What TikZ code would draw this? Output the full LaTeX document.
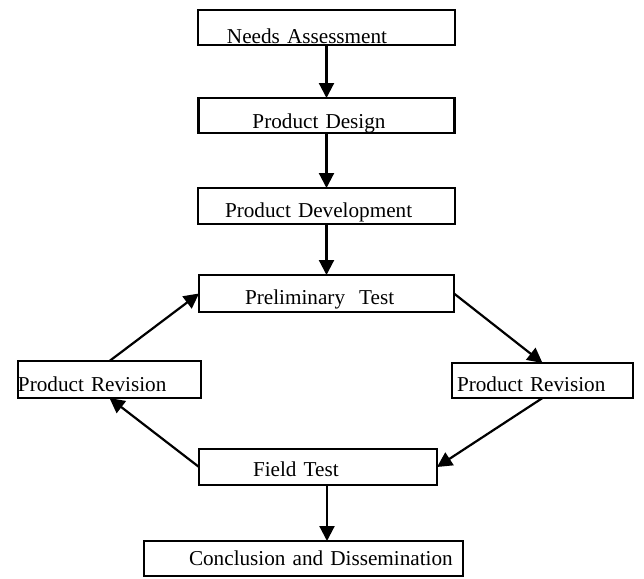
\documentclass[tikz,border=0pt]{standalone}
\usepackage{fontspec}
\setmainfont{Liberation Serif}
\usetikzlibrary{positioning,arrows.meta}
\tikzstyle{box}=[draw,line width=1.25pt,inner sep=0pt,outer sep=0pt,align=left]
\tikzstyle{arrow}=[-{Triangle[length=7.5pt,width=7.5pt]},line width=1.1pt]

\begin{document}
\begin{tikzpicture}[font=\fontsize{10.6}{12}\selectfont]
  \useasboundingbox (0,0) rectangle (322pt,-289.5pt);

  % main column
  \node[box,text width=128.5pt,text height=16.5pt,text depth=1pt]
    (na) at (163.25pt,-13.75pt) {\hspace*{14.5pt}Needs Assessment};
  \node[box,text width=128pt,text height=15pt,text depth=2.5pt]
    (pd) [below=26.5pt of na] {\hspace*{27pt}Product Design};
  \node[box,text width=128.5pt,text height=14.5pt,text depth=3.5pt]
    (pdev) [below=27.5pt of pd] {\hspace*{13.5pt}Product Development};
  \node[box,text width=127.5pt,text height=14.5pt,text depth=4pt]
    (pt) [below=25.5pt of pdev] {\hspace*{23pt}Preliminary~~Test};

  % revision loop
  \node[box,text width=91.5pt,text height=15pt,text depth=3.5pt]
    (lpr) [below=24.5pt of pt.south west,anchor=north east,xshift=1pt]
    {Product Revision};
  \node[box,text width=90.5pt,text height=14pt,text depth=3.5pt]
    (rpr) [below=25.5pt of pt.south east,anchor=north west,xshift=-1pt]
    {\hspace*{2.5pt}Product Revision};
  \node[box,text width=119pt,text height=13.5pt,text depth=4.5pt]
    (ft) [below=68.5pt of pt.south west,anchor=north west]
    {\hspace*{27pt}Field Test};
  \node[box,text width=159.5pt,text height=12pt,text depth=5.5pt]
    (cd) [below=28pt of ft.south west,anchor=north west,xshift=-27.5pt]
    {\hspace*{22.5pt}Conclusion and Dissemination};

  \draw[arrow] (na) -- (pd);
  \draw[arrow] (pd) -- (pdev);
  \draw[arrow] (pdev) -- (pt);
  \draw[arrow] (pt.east) -- (rpr.north);
  \draw[arrow] (rpr.south) -- (ft.east);
  \draw[arrow] (ft.west) -- (lpr.south);
  \draw[arrow] (lpr.north) -- (pt.west);
  \draw[arrow] ([xshift=4.5pt]ft.south) -- ([xshift=4.5pt]ft.south |- cd.north);
\end{tikzpicture}
\end{document}
